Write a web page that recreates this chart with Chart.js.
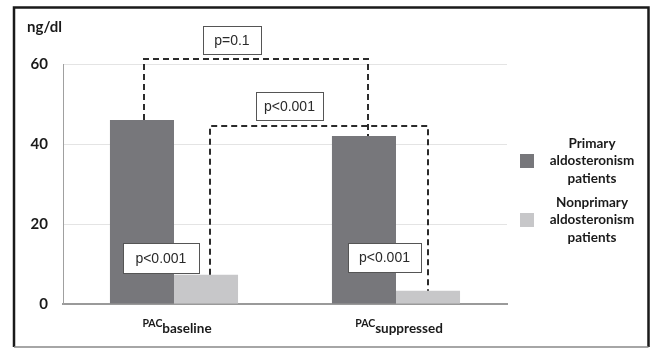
<!DOCTYPE html>
<html>
<head>
<meta charset="utf-8">
<title>PAC baseline vs suppressed</title>
<script src="https://cdn.jsdelivr.net/npm/chart.js@4/dist/chart.umd.min.js"></script>
<style>
    html, body { margin: 0; padding: 0; background: #fff; }
    #wrap { position: relative; width: 650px; height: 348px; }
</style>
</head>
<body>
<div id="wrap"><canvas id="pacChart" width="650" height="348"></canvas></div>
<script>
// Chart data
const categories = ['baseline', 'suppressed'];
const primaryValues = [46, 42];
const nonprimaryValues = [7.3, 3.3];
const yTicks = [0, 20, 40, 60];
const seriesNames = [
    ['Primary', 'aldosteronism', 'patients'],
    ['Nonprimary', 'aldosteronism', 'patients']
];
const pLabels = ['p=0.1', 'p<0.001', 'p<0.001', 'p<0.001'];

const DARK = '#77777b';
const LIGHT = '#c7c7c9';
const LABEL_FONT = 'Lato, "Open Sans", sans-serif';

// Dashed comparison brackets (x in category units, ends sit on bar tops)
const brackets = [
    { x1: -0.135, x2: 0.874, top: 61.3, y1: primaryValues[0], y2: primaryValues[1] },
    { x1: 0.162, x2: 1.144, top: 44.5, y1: nonprimaryValues[0], y2: nonprimaryValues[1] }
];

// Boxed p-value labels (centre in category / value units)
const boxes = [
    { x: 0.261, y: 66, w: 58, h: 28, text: pLabels[0] },
    { x: 0.52, y: 49.5, w: 67, h: 28, text: pLabels[1] },
    { x: -0.059, y: 11.5, w: 76, h: 30, text: pLabels[2] },
    { x: 0.948, y: 11.6, w: 73, h: 29, text: pLabels[3] }
];

/**
 * Frame, unit label, subscript category labels, legend, brackets, boxes
 */
const decorPlugin = {
    id: 'decor',
    afterDraw(chart) {
        const ctx = chart.ctx;
        const xs = chart.scales.x;
        const ys = chart.scales.y;
        ctx.save();

        // Outer frame
        ctx.strokeStyle = '#1a1a1a';
        ctx.lineWidth = 2.5;
        ctx.beginPath();
        ctx.moveTo(14, 347);
        ctx.lineTo(14, 7.5);
        ctx.lineTo(648.5, 7.5);
        ctx.lineTo(648.5, 347);
        ctx.stroke();
        ctx.strokeStyle = '#888';
        ctx.lineWidth = 1.5;
        ctx.beginPath();
        ctx.moveTo(14, 347);
        ctx.lineTo(648.5, 347);
        ctx.stroke();

        // Unit label
        ctx.fillStyle = '#1a1a1a';
        ctx.font = 'bold 15px ' + LABEL_FONT;
        ctx.textAlign = 'left';
        ctx.textBaseline = 'middle';
        ctx.fillText('ng/dl', 27, 27);

        // Category labels: PAC with subscript
        categories.forEach((sub, i) => {
            const cx = xs.getPixelForValue(i);
            ctx.font = 'bold 10.5px ' + LABEL_FONT;
            const w1 = ctx.measureText('PAC').width;
            ctx.font = 'bold 13.5px ' + LABEL_FONT;
            const w2 = ctx.measureText(sub).width;
            const left = cx + 3 - (w1 + w2) / 2;
            ctx.textBaseline = 'alphabetic';
            ctx.textAlign = 'left';
            ctx.font = 'bold 10.5px ' + LABEL_FONT;
            ctx.fillText('PAC', left, 327);
            ctx.font = 'bold 13.5px ' + LABEL_FONT;
            ctx.fillText(sub, left + w1, 333);
        });

        // Legend
        const legendY = [161, 220];
        chart.data.datasets.forEach((ds, i) => {
            ctx.fillStyle = ds.backgroundColor;
            ctx.fillRect(520, legendY[i] - 7, 14, 14);
            ctx.fillStyle = '#1a1a1a';
            ctx.font = 'bold 13.5px ' + LABEL_FONT;
            ctx.textAlign = 'center';
            ctx.textBaseline = 'middle';
            seriesNames[i].forEach((line, k) => {
                ctx.fillText(line, 592, legendY[i] + (k - 1) * 17.5);
            });
        });

        // Brackets
        ctx.strokeStyle = '#2b2b2b';
        ctx.lineWidth = 2;
        ctx.setLineDash([6, 4]);
        brackets.forEach(b => {
            const px1 = Math.round(xs.getPixelForValue(b.x1));
            const px2 = Math.round(xs.getPixelForValue(b.x2));
            const top = Math.round(ys.getPixelForValue(b.top));
            ctx.beginPath();
            ctx.moveTo(px1, ys.getPixelForValue(b.y1));
            ctx.lineTo(px1, top);
            ctx.lineTo(px2, top);
            ctx.lineTo(px2, ys.getPixelForValue(b.y2));
            ctx.stroke();
        });
        ctx.setLineDash([]);

        // p-value boxes
        boxes.forEach(b => {
            const cx = xs.getPixelForValue(b.x);
            const cy = ys.getPixelForValue(b.y);
            const x0 = Math.round(cx - b.w / 2) + 0.5;
            const y0 = Math.round(cy - b.h / 2) + 0.5;
            ctx.fillStyle = '#fff';
            ctx.fillRect(x0, y0, b.w, b.h);
            ctx.strokeStyle = '#555';
            ctx.lineWidth = 1;
            ctx.strokeRect(x0, y0, b.w, b.h);
            ctx.fillStyle = '#2a2a2a';
            ctx.font = '14px "Liberation Sans", Arial, sans-serif';
            ctx.textAlign = 'center';
            ctx.textBaseline = 'middle';
            ctx.fillText(b.text, cx, cy + 1);
        });

        ctx.restore();
    }
};

const chart = new Chart(document.getElementById('pacChart'), {
    type: 'bar',
    data: {
        labels: categories,
        datasets: [{
            label: seriesNames[0].join(' '),
            data: primaryValues,
            backgroundColor: DARK,
            borderWidth: 0
        }, {
            label: seriesNames[1].join(' '),
            data: nonprimaryValues,
            backgroundColor: LIGHT,
            borderWidth: 0
        }]
    },
    options: {
        responsive: false,
        animation: false,
        events: [],
        layout: {
            padding: { left: 14, right: 143, top: 64, bottom: 0 }
        },
        plugins: {
            legend: { display: false },
            tooltip: { enabled: false }
        },
        datasets: {
            bar: { barPercentage: 1, categoryPercentage: 0.577 }
        },
        scales: {
            x: {
                grid: { display: false },
                border: { color: '#9a9a9a', width: 2 },
                ticks: { display: false },
                afterFit(scale) { scale.height = 44; }
            },
            y: {
                min: 0,
                max: 60,
                afterBuildTicks(scale) {
                    scale.ticks = yTicks.map(v => ({ value: v }));
                },
                afterFit(scale) { scale.width = 49; },
                grid: { color: '#e4e4e4', lineWidth: 1, drawTicks: false },
                border: { color: '#a0a0a0', width: 1 },
                ticks: {
                    padding: 15,
                    color: '#1a1a1a',
                    font: { family: LABEL_FONT, size: 15, weight: 'bold' }
                }
            }
        }
    },
    plugins: [decorPlugin]
});
</script>
</body>
</html>
